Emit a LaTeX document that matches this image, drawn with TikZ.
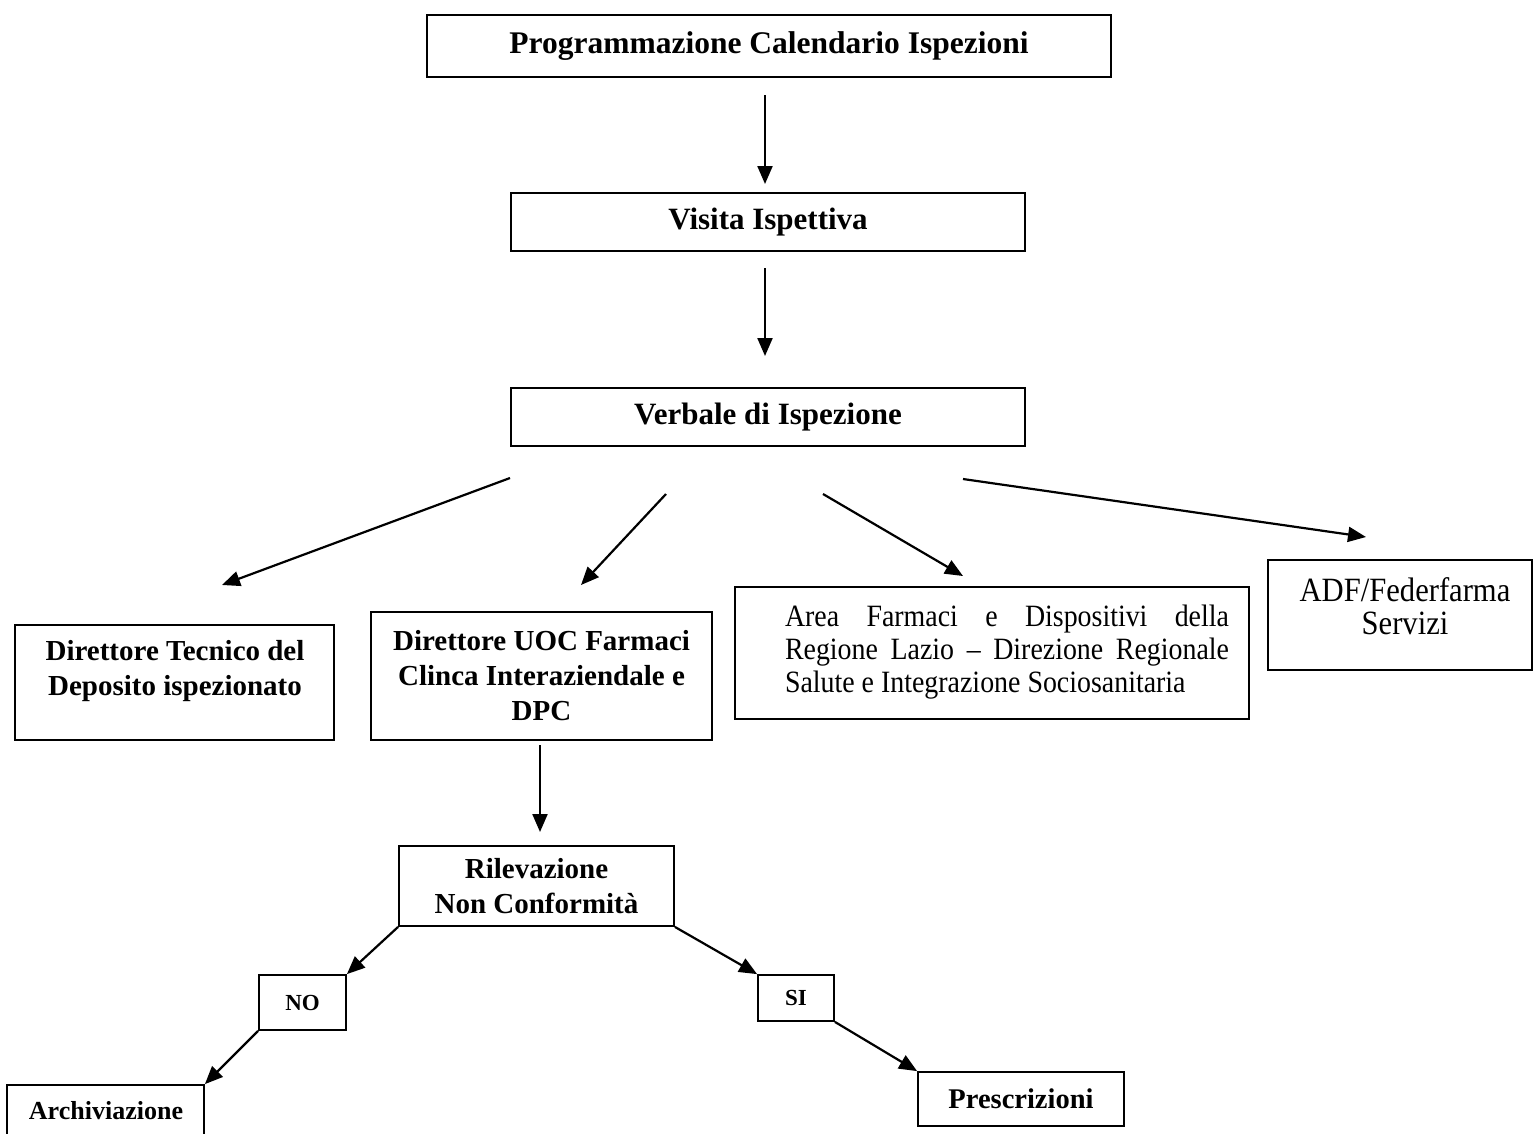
\documentclass[tikz,border=0pt]{standalone}
\usepackage{fontspec}
\setmainfont{Liberation Serif}
\newfontfamily\condfont[FakeStretch=0.9]{Liberation Serif}
\usetikzlibrary{arrows.meta}
\begin{document}
\begin{tikzpicture}[x=1pt,y=-1pt,
  frame/.style={draw,line width=1.8pt,inner sep=0pt},
  box/.style={frame,align=center,font=\bfseries\fontsize{29}{35}\selectfont},
  txt/.style={inner sep=0pt,align=center,font=\bfseries\fontsize{29}{35}\selectfont},
  ctxt/.style={inner sep=0pt,align=center,font=\condfont\fontsize{31}{33}\selectfont},
  small/.style={frame,align=center,font=\bfseries\fontsize{23}{28}\selectfont},
  arr/.style={line width=2.2pt,-{Triangle[length=18pt,width=15pt]}}]
\useasboundingbox (0,0) rectangle (1533,1133);

\node[box,minimum width=684pt,minimum height=62pt,font=\bfseries\fontsize{31.5}{35}\selectfont] (prog) at (769,46) {Programmazione Calendario Ispezioni};
\node[box,minimum width=514pt,minimum height=58pt,font=\bfseries\fontsize{31}{35}\selectfont] (visita) at (768,222) {Visita Ispettiva};
\node[box,minimum width=514pt,minimum height=58pt,font=\bfseries\fontsize{31}{35}\selectfont] (verb) at (768,417) {Verbale di Ispezione};

\node[frame,minimum width=319pt,minimum height=115pt] (dt) at (174.5,682.5) {};
\node[txt] (dtT) at (175,671) {Direttore Tecnico del\\Deposito ispezionato};

\node[box,minimum width=341pt,minimum height=128pt] (duoc) at (541.5,676) {Direttore UOC Farmaci\\Clinca Interaziendale e\\DPC};

\node[frame,minimum width=514pt,minimum height=132pt] (area) at (992,653) {};
\node[ctxt,align=left] (areaT) at (1007,652) {\hbox to 444pt{Area\ \hfill Farmaci\ \hfill e\ \hfill Dispositivi\ \hfill della}\\\hbox to 444pt{Regione\ \hfill Lazio\ \hfill –\ \hfill Direzione\ \hfill Regionale}\\Salute e Integrazione Sociosanitaria\hspace*{32pt}};

\node[frame,minimum width=264pt,minimum height=110pt] (adf) at (1400,615) {};
\node[ctxt,font=\condfont\fontsize{34}{33}\selectfont] (adfT) at (1405,606) {ADF/Federfarma\\Servizi};

\node[box,minimum width=275pt,minimum height=80pt,font=\bfseries\fontsize{29}{35}\selectfont] (ril) at (536.5,886) {Rilevazione\\Non Conformit\`a};

\node[small,minimum width=87pt,minimum height=55pt] (no) at (302.5,1002.5) {NO};
\node[small,minimum width=76pt,minimum height=46pt] (si) at (796,998) {SI};

\node[frame,minimum width=197pt,minimum height=80pt] (arch) at (105.5,1125) {};
\node[txt,font=\bfseries\fontsize{26}{28}\selectfont] (archT) at (106,1111) {Archiviazione};
\node[box,minimum width=206pt,minimum height=54pt,font=\bfseries\fontsize{28.5}{30}\selectfont] (presc) at (1021,1099) {Prescrizioni};

% connectors
\coordinate (a1) at (765,95); \coordinate (b1) at (765,184);
\coordinate (a2) at (765,268); \coordinate (b2) at (765,356);
\draw[arr] (a1) -- (b1);
\draw[arr] (a2) -- (b2);

\coordinate (v1) at (510,478); \coordinate (t1) at (222,585);
\coordinate (v2) at (666,494); \coordinate (t2) at (581,585);
\coordinate (v3) at (823,494); \coordinate (t3) at (963,576);
\coordinate (v4) at (963,479); \coordinate (t4) at (1366,537);
\draw[arr] (v1) -- (t1);
\draw[arr] (v2) -- (t2);
\draw[arr] (v3) -- (t3);
\draw[arr] (v4) -- (t4);

\coordinate (d1) at (540,745); \coordinate (d2) at (540,832);
\draw[arr] (d1) -- (d2);

\draw[arr] (ril.south west) -- (no.north east);
\draw[arr] (ril.south east) -- (si.north west);
\draw[arr] (no.south west) -- (arch.north east);
\draw[arr] (si.south east) -- (presc.north west);
\end{tikzpicture}
\end{document}
